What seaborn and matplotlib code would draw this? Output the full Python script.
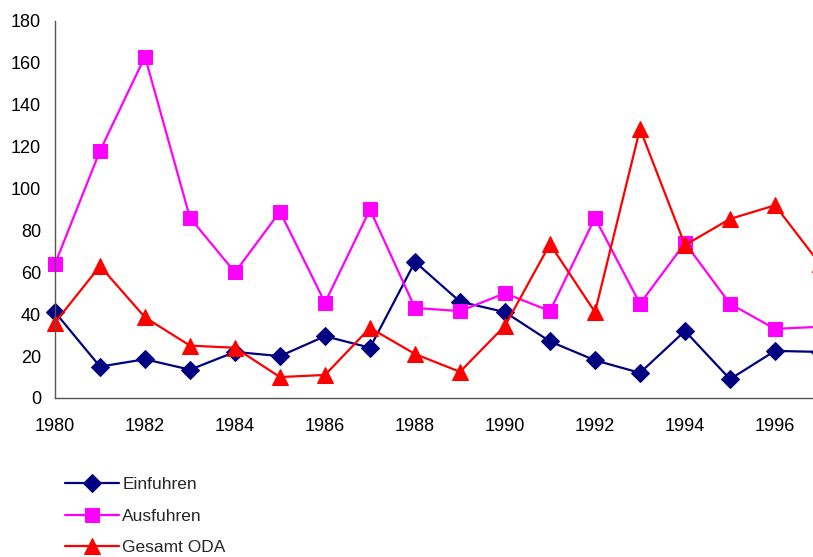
import pandas as pd
import seaborn as sns
import matplotlib.pyplot as plt

years = list(range(1980, 1998))
einfuhren = [41, 15, 18.5, 13.5, 22, 20, 29.5, 24, 65, 46, 41, 27, 18, 12, 32, 9, 22.5, 22]
ausfuhren = [64, 118, 163, 86, 60, 89, 45.5, 90, 43, 41.5, 50, 41.5, 86, 45, 74, 45, 33, 34]
gesamt_oda = [36, 63, 38.5, 25, 24, 10, 11, 33.5, 21, 12.5, 34.5, 73.5, 41, 128.5, 73, 85.5, 92, 64]

series = [
    ("Einfuhren", einfuhren, "#000080", "D", 9.5),
    ("Ausfuhren", ausfuhren, "#FF00FF", "s", 10.5),
    ("Gesamt ODA", gesamt_oda, "#FF0000", "^", 11),
]

sns.set_style("white")
plt.rcParams["font.family"] = ["Liberation Sans", "DejaVu Sans"]

fig = plt.figure(figsize=(8.13, 5.57), dpi=100)
# axis runs off the right edge of the picture (1997 is cut off)
ax = fig.add_axes([55 / 813, 159 / 557, 765 / 813, 377 / 557])

for name, vals, color, marker, ms in series:
    df = pd.DataFrame({"Jahr": years, "Wert": vals})
    sns.lineplot(
        data=df, x="Jahr", y="Wert", ax=ax, color=color, marker=marker,
        markersize=ms, markeredgecolor=color, linewidth=1.6, label=name,
        clip_on=False,
    )

ax.set_xlim(1980, 1997)
ax.set_ylim(0, 180)
ax.set_yticks(range(0, 181, 20))
ax.set_xticks(range(1980, 1998))
ax.set_xticklabels([str(y) if y % 2 == 0 else "" for y in range(1980, 1998)])
ax.set_xlabel("")
ax.set_ylabel("")
ax.tick_params(axis="both", labelsize=13, colors="#000000")
ax.tick_params(axis="x", direction="inout", length=11, width=1, color="#555555", pad=9)
ax.tick_params(axis="y", direction="out", length=6, width=1, color="#555555", pad=4)

sns.despine(ax=ax)
for side in ["left", "bottom"]:
    ax.spines[side].set_color("#555555")
    ax.spines[side].set_linewidth(1)

handles, labels = ax.get_legend_handles_labels()
ax.get_legend().remove()
fig.legend(
    handles, labels, loc="upper left", bbox_to_anchor=(58 / 813, 1 - 470 / 557),
    frameon=False, fontsize=12.5, handlelength=3.1, handletextpad=0.2,
    labelspacing=0.95, borderaxespad=0,
)

fig.savefig("out.png", dpi=100)
